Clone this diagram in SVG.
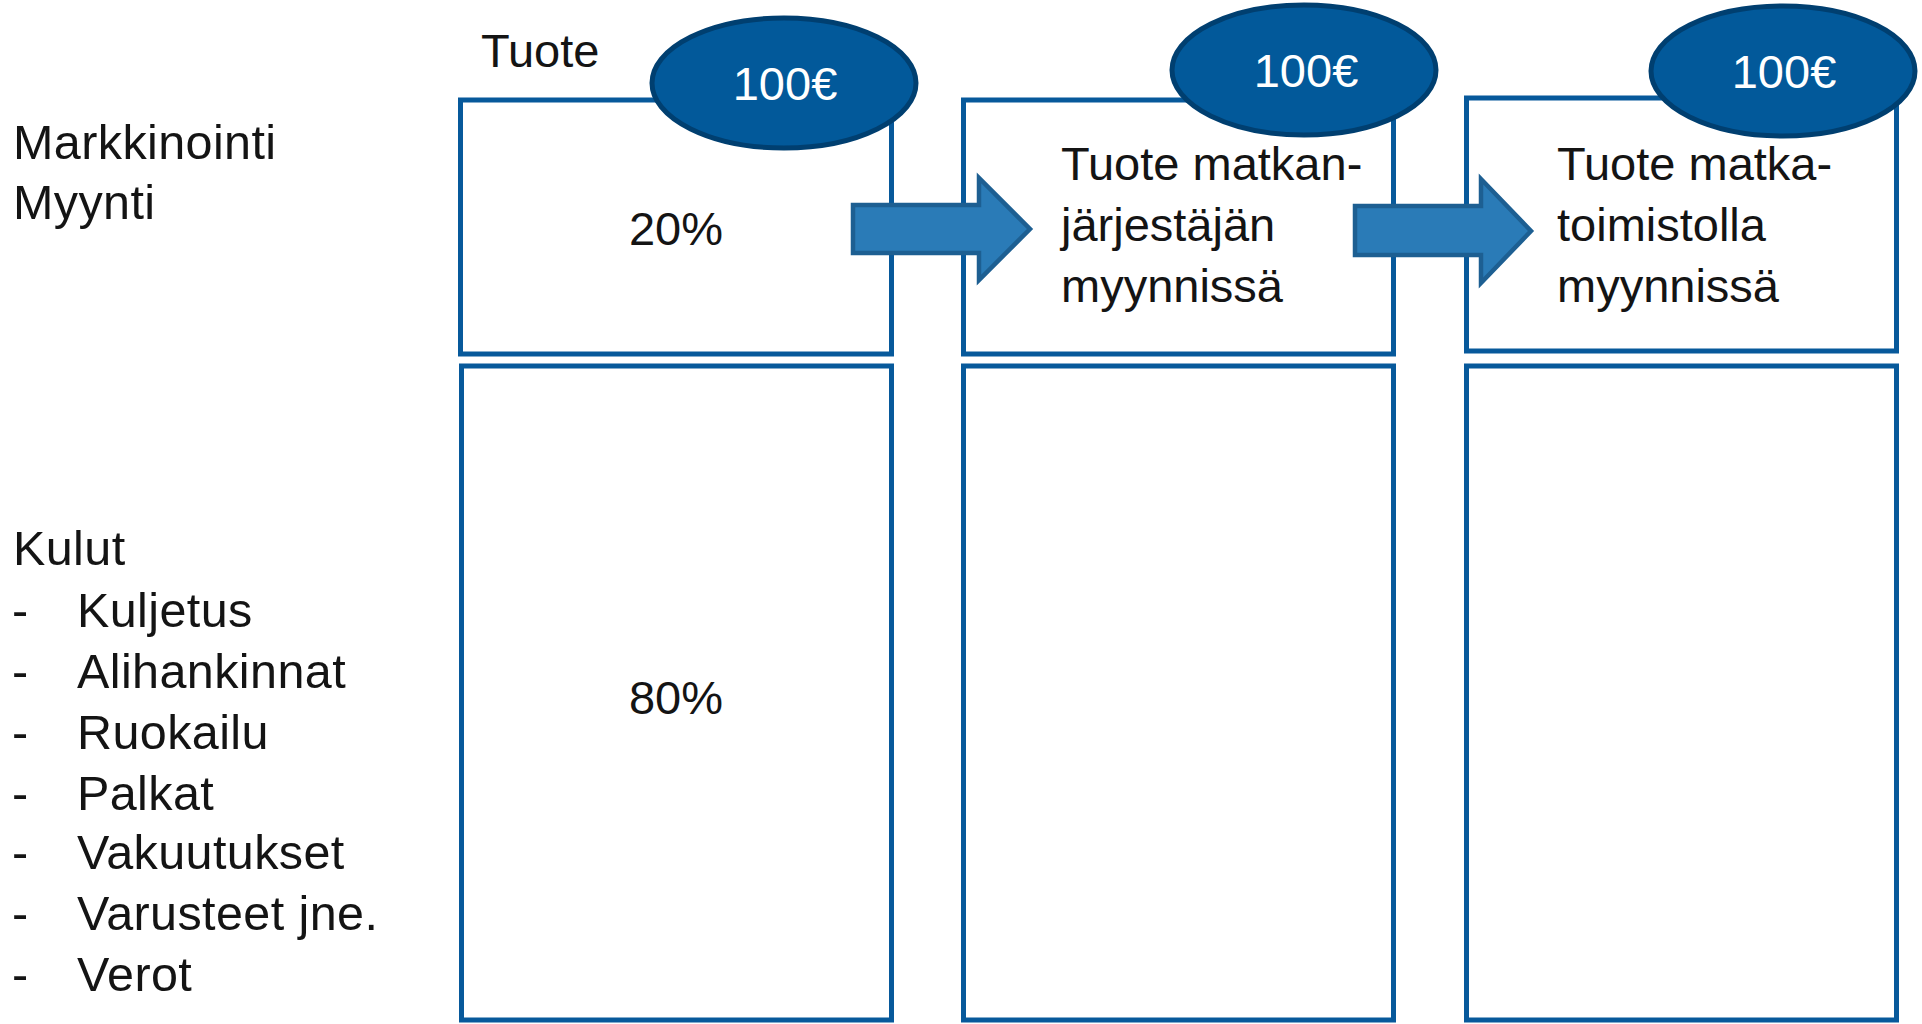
<svg xmlns="http://www.w3.org/2000/svg" width="1922" height="1024" viewBox="0 0 1922 1024">
<style>
.box{fill:#fff;stroke:#07599b;stroke-width:5}
.oval{fill:#02599a;stroke:#003f70;stroke-width:5}
.arrow{fill:#2a7bb7;stroke:#1d5f92;stroke-width:4.5;stroke-linejoin:miter}
.t{font-family:"Liberation Sans",Arial,sans-serif;font-size:47px;fill:#141414}
.l{font-size:48.5px;letter-spacing:0.4px}
.w{font-family:"Liberation Sans",Arial,sans-serif;font-size:47px;fill:#fff;text-anchor:middle}
.c{text-anchor:middle}
</style>
<rect width="1922" height="1024" fill="#fff"/>
<g id="left-labels">
<text class="t l" x="13" y="159">Markkinointi</text>
<text class="t l" x="13" y="219">Myynti</text>
<text class="t l" x="13" y="565">Kulut</text>
<g id="cost-list">
<text class="t l" x="12" y="627">-</text><text class="t l" x="77" y="627">Kuljetus</text>
<text class="t l" x="12" y="688">-</text><text class="t l" x="77" y="688">Alihankinnat</text>
<text class="t l" x="12" y="749">-</text><text class="t l" x="77" y="749">Ruokailu</text>
<text class="t l" x="12" y="810">-</text><text class="t l" x="77" y="810">Palkat</text>
<text class="t l" x="12" y="869">-</text><text class="t l" x="77" y="869">Vakuutukset</text>
<text class="t l" x="12" y="930">-</text><text class="t l" x="77" y="930">Varusteet jne.</text>
<text class="t l" x="12" y="991">-</text><text class="t l" x="77" y="991">Verot</text>
</g>
</g>
<g id="col1">
<text class="t" x="481" y="67">Tuote</text>
<g id="col1-top"><rect class="box" x="460.5" y="100" width="431" height="254"/><text class="t c" x="676" y="245">20%</text></g>
<g id="col1-bottom"><rect class="box" x="461.5" y="366" width="430" height="654"/><text class="t c" x="676" y="714">80%</text></g>
</g>
<g id="col2">
<g id="col2-top"><rect class="box" x="963.5" y="100" width="430" height="254"/>
<text class="t" x="1061" y="180">Tuote matkan-</text>
<text class="t" x="1061" y="241">järjestäjän</text>
<text class="t" x="1061" y="302">myynnissä</text></g>
<g id="col2-bottom"><rect class="box" x="963.5" y="366" width="430" height="654"/></g>
</g>
<g id="col3">
<g id="col3-top"><rect class="box" x="1466.5" y="98" width="430" height="253"/>
<text class="t" x="1557" y="180">Tuote matka-</text>
<text class="t" x="1557" y="241">toimistolla</text>
<text class="t" x="1557" y="302">myynnissä</text></g>
<g id="col3-bottom"><rect class="box" x="1466.5" y="366" width="430" height="654"/></g>
</g>
<g id="connectors">
<path class="arrow" d="M853,205 H979 V178 L1030,229 L979,280 V253 H853 Z"/>
<path class="arrow" d="M1355,206 H1481 V179 L1531,231 L1481,283 V255 H1355 Z"/>
</g>
<g id="price1"><ellipse class="oval" cx="784" cy="83" rx="132" ry="65"/><text class="w" x="785" y="100">100€</text></g>
<g id="price2"><ellipse class="oval" cx="1304" cy="70" rx="132" ry="65"/><text class="w" x="1306" y="87">100€</text></g>
<g id="price3"><ellipse class="oval" cx="1783" cy="71" rx="132" ry="65"/><text class="w" x="1784" y="88">100€</text></g>
</svg>
